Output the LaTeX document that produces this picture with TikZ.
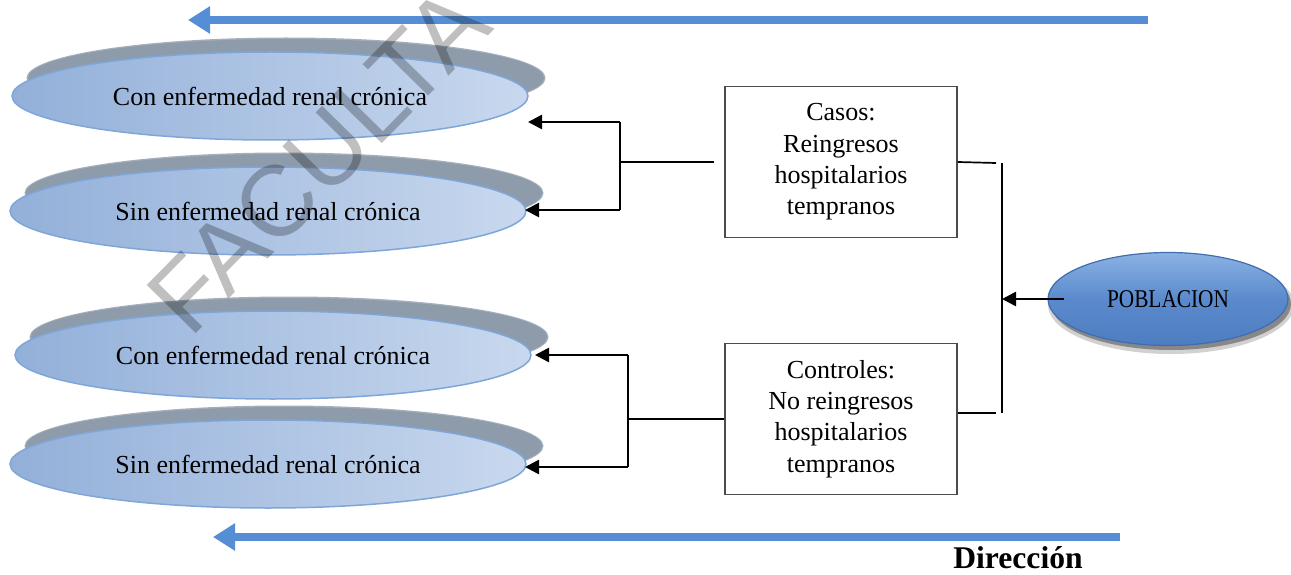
\documentclass[tikz,border=0pt]{standalone}
\usepackage{fontspec}
\setmainfont{Liberation Serif}
\newfontfamily\wmfont{Liberation Sans}
\usetikzlibrary{arrows.meta,shapes.geometric,calc}
\definecolor{bluearrow}{RGB}{85,142,213}
\definecolor{shadowgray}{RGB}{142,155,170}
\definecolor{elldark}{RGB}{147,176,217}
\definecolor{elllight}{RGB}{200,216,238}
\definecolor{ellborder}{RGB}{126,166,216}
\definecolor{pobtop}{RGB}{140,178,228}
\definecolor{pobmid}{RGB}{90,138,205}
\definecolor{pobbottom}{RGB}{78,125,192}
\definecolor{pobborder}{RGB}{65,108,175}
\pgfdeclarelayer{bg}
\pgfsetlayers{bg,main}
\begin{document}
\begin{tikzpicture}[x=1pt,y=-1pt,
  conn/.style={line width=2.6pt, black},
  thinconn/.style={line width=1.7pt, black},
  arr/.style={-{Triangle[length=14pt,width=14pt]}},
  bluearr/.style={line width=8pt, bluearrow, -{Triangle[length=22pt,width=26pt]}},
  ellnode/.style={ellipse, draw=ellborder, line width=1.5pt, minimum width=516pt,
    minimum height=88pt, inner sep=0pt, left color=elldark, right color=elllight,
    font=\fontsize{26}{31}\selectfont},
  boxnode/.style={draw=black!70, line width=1.5pt, minimum width=232pt,
    minimum height=151pt, align=center, fill=white,
    font=\fontsize{26}{31.3}\selectfont},
  pobnode/.style={ellipse, draw=pobborder, line width=1.2pt, minimum width=240pt,
    minimum height=93pt, inner sep=0pt, top color=pobtop, bottom color=pobbottom,
    middle color=pobmid, font=\fontsize{21.3}{25}\selectfont},
  wmstyle/.style={rotate=45.5, text=black, opacity=0.25,
    font=\wmfont\fontsize{100}{100}\selectfont},
  dirstyle/.style={font=\bfseries\fontsize{31.6}{36}\selectfont}
]
\begin{pgfonlayer}{bg}
  \fill[white] (0,0) rectangle (1291,575);
\end{pgfonlayer}
\useasboundingbox (0,0) rectangle (1291,575);

% blue direction arrows
\coordinate (ta) at (1148,20);
\coordinate (tb) at (188,20);
\draw[bluearr] (ta) -- (tb);
\coordinate (ba) at (1120,537);
\coordinate (bb) at (213,537);
\draw[bluearr] (ba) -- (bb);

% ellipses
\node[ellnode] (e1) at (270,96) {Con enfermedad renal crónica};
\node[ellnode] (e2) at (268,211) {Sin enfermedad renal crónica};
\node[ellnode] (e3) at (273,355) {Con enfermedad renal crónica};
\node[ellnode] (e4) at (268,464) {Sin enfermedad renal crónica};

\begin{pgfonlayer}{bg}
  \foreach \e in {e1,e2,e3,e4} {
    \fill[shadowgray!80] ($(\e.center)+(16,-18)$) ellipse [x radius=259.5pt, y radius=40.5pt];
    \fill[shadowgray] ($(\e.center)+(16,-18)$) ellipse [x radius=258pt, y radius=39pt];
  }
\end{pgfonlayer}

% boxes
\node[boxnode] (casos) at (841,162) {Casos:\\Reingresos\\hospitalarios\\tempranos};
\node[boxnode] (controles) at (841,419) {Controles:\\No reingresos\\hospitalarios\\tempranos};

% poblacion
\node[pobnode] (pob) at (1168,299) {\scalebox{1}[1.2]{POBLACION}};
\begin{pgfonlayer}{bg}
  \fill[black,opacity=.18] ($(pob.center)+(3,6)$) ellipse [x radius=123pt, y radius=49pt];
  \fill[black,opacity=.35] ($(pob.center)+(3,5)$) ellipse [x radius=120pt, y radius=46pt];
\end{pgfonlayer}

% left connectors (casos)
\coordinate (cA) at (620,122);
\coordinate (cB) at (620,210);
\coordinate (t1) at (528,122);
\coordinate (t2) at (525,210);
\draw[conn] ([xshift=-10pt]casos.west) -- (cA |- casos.west);
\draw[conn] (cA) -- (cB);
\draw[conn,arr] (cA) -- (t1);
\draw[conn,arr] (cB) -- (t2);

% left connectors (controles)
\coordinate (dA) at (628,355);
\coordinate (dB) at (628,467);
\coordinate (t3) at (535,355);
\coordinate (t4) at (525,467);
\draw[conn] (controles.west) -- (dA |- controles.west);
\draw[conn] (dA) -- (dB);
\draw[conn,arr] (dA) -- (t3);
\draw[conn,arr] (dB) -- (t4);

% right connectors
\coordinate (rA) at (1002,163);
\coordinate (rB) at (1002,413);
\draw[thinconn] (casos.east) -- ([xshift=-6pt]rA);
\draw[thinconn] (controles.east |- rB) -- ([xshift=-6pt]rB);
\draw[thinconn] (rA) -- (rB);
\draw[conn,arr] ([xshift=17pt]pob.west) -- (rA |- pob.west);

% direction label
\node[dirstyle] (dir) at (1018,558) {Dirección};

% watermark
\begin{scope}
  \clip (0,0) rectangle (1291,575);
  \node[wmstyle] (wm) at (318,160) {FACULTA};
\end{scope}
\end{tikzpicture}
\end{document}
